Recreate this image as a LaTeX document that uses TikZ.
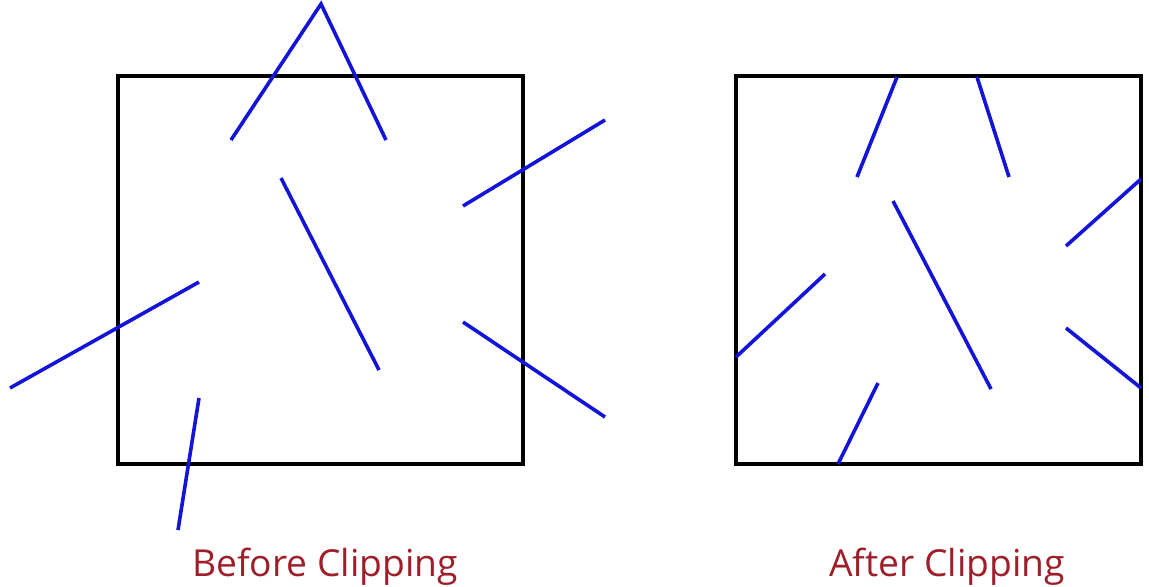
\documentclass[tikz,border=0pt]{standalone}
\usepackage{fontspec}
\setmainfont{Open Sans}
\definecolor{segblue}{HTML}{1414D8}
\definecolor{capred}{HTML}{9E1F2A}
\begin{document}
\begin{tikzpicture}[x=0.5pt,y=-0.5pt,
  frame/.style={draw=black,line width=1.6pt},
  seg/.style={draw=segblue,line width=1.8pt},
  caption/.style={text=capred,font=\fontsize{18.6}{22}\selectfont,inner sep=0pt,anchor=base}]
\useasboundingbox (0,0) rectangle (1149,586);
% left (before clipping)
\draw[frame] (118,76) rectangle (523,464);
\draw[seg] (231,140) -- (321,4) -- (386,140);
\draw[seg] (281,178) -- (379,370);
\draw[seg] (463,206) -- (605,120);
\draw[seg] (10,388) -- (199,282);
\draw[seg] (463,322) -- (605,417);
\draw[seg] (199,398) -- (178,530);
\node[caption] (before) at (325,576) {Before Clipping};
% right (after clipping)
\draw[frame] (736,76) rectangle (1141,464);
\draw[seg] (857,177) -- (897,77);
\draw[seg] (977,77) -- (1009,177);
\draw[seg] (1066,246) -- (1141,179);
\draw[seg] (736,357) -- (825,274);
\draw[seg] (893,201) -- (991,389);
\draw[seg] (1066,328) -- (1141,388);
\draw[seg] (878,383) -- (838,464);
\node[caption] (after) at (947,576) {After Clipping};
\end{tikzpicture}
\end{document}
